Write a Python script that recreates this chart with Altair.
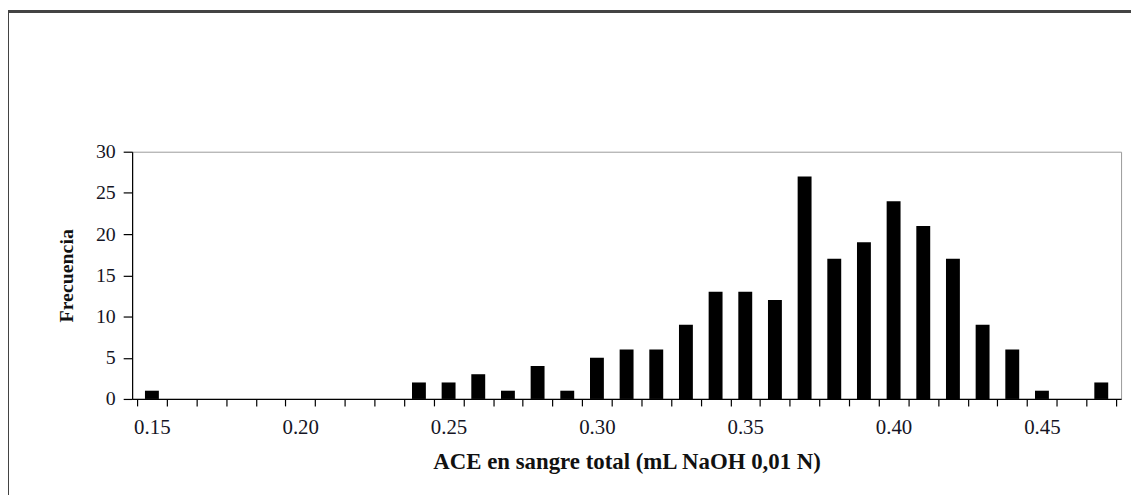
import altair as alt
import pandas as pd

# ACE values (bin centers) and frequencies
ace = [0.15, 0.16, 0.17, 0.18, 0.19, 0.20, 0.21, 0.22, 0.23, 0.24, 0.25,
       0.26, 0.27, 0.28, 0.29, 0.30, 0.31, 0.32, 0.33, 0.34, 0.35, 0.36,
       0.37, 0.38, 0.39, 0.40, 0.41, 0.42, 0.43, 0.44, 0.45, 0.46, 0.47]
freq = [1, 0, 0, 0, 0, 0, 0, 0, 0, 2, 2,
        3, 1, 4, 1, 5, 6, 6, 9, 13, 13, 12,
        27, 17, 19, 24, 21, 17, 9, 6, 1, 0, 2]
# bin edges for x tick marks
edges = [0.145, 0.155, 0.165, 0.175, 0.185, 0.195, 0.205, 0.215, 0.225,
         0.235, 0.245, 0.255, 0.265, 0.275, 0.285, 0.295, 0.305, 0.315,
         0.325, 0.335, 0.345, 0.355, 0.365, 0.375, 0.385, 0.395, 0.405,
         0.415, 0.425, 0.435, 0.445, 0.455, 0.465, 0.475]
y_ticks = [0, 5, 10, 15, 20, 25, 30]

df = pd.DataFrame({"ace": ace, "freq": freq})

W, H = 996, 249
FONT = "Liberation Serif"

label_expr = ("abs((datum.value - 0.005) * 20 - round((datum.value - 0.005) * 20)) < 0.01"
              " ? format(datum.value - 0.005, '.2f') : ''")

bars = alt.Chart(df).mark_bar(size=14, color="black").encode(
    x=alt.X("ace:Q",
            scale=alt.Scale(domain=[0.145, 0.475], nice=False, zero=False),
            axis=alt.Axis(values=edges, labelExpr=label_expr, labelOffset=-15,
                          tickSize=7, labelPadding=11, grid=False,
                          labelFontSize=21,
                          title="ACE en sangre total (mL NaOH 0,01 N)",
                          titleFontSize=23, titlePadding=13),
            ),
    y=alt.Y("freq:Q",
            scale=alt.Scale(domain=[0, 30], nice=False),
            axis=alt.Axis(values=y_ticks, tickSize=9, labelPadding=8, grid=False,
                          labelFontSize=20,
                          title="Frecuencia", titleFontSize=20, titlePadding=19)),
)

frame = alt.Chart(df).mark_rect(filled=False, stroke="#444444", strokeWidth=2).encode(
    x=alt.value(-125), x2=alt.value(W + 60),
    y=alt.value(-141), y2=alt.value(H + 200),
)

chart = alt.layer(frame, bars).properties(
    width=W, height=H,
    autosize=alt.AutoSizeParams(type="none"),
    padding={"left": 125, "top": 143, "right": 10, "bottom": 95},
).configure_view(
    stroke="#9a9a9a", strokeWidth=1
).configure_axis(
    domainColor="black", tickColor="black", domainWidth=1.2, tickWidth=1.2,
    labelFont=FONT, labelColor="#151525",
    titleFont=FONT, titleFontWeight="bold", titleColor="#111111",
)

chart.save("out.html", embed_options={"renderer": "svg", "actions": False})
